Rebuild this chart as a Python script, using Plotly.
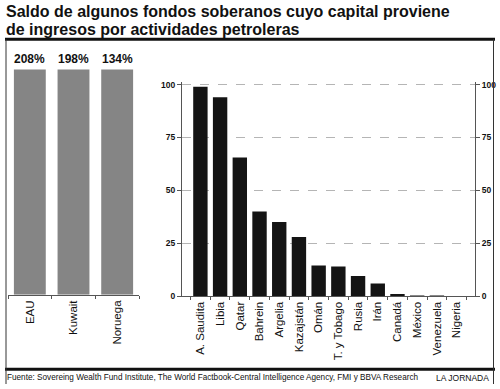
import plotly.graph_objects as go

# Data
left_cats = ["EAU", "Kuwait", "Noruega"]
left_vals = [208, 198, 134]
left_labels = ["208%", "198%", "134%"]

right_cats = ["A. Saudita", "Libia", "Qatar", "Bahrein", "Argelia", "Kazajstán", "Omán",
              "T. y Tobago", "Rusia", "Irán", "Canadá", "México", "Venezuela", "Nigeria"]
right_vals = [99, 94, 65.5, 40, 35, 28, 14.5, 14, 9.5, 6, 1, 0.3, 0.3, 0]
y_ticks = [0, 25, 50, 75, 100]

title_line1 = "Saldo de algunos fondos soberanos cuyo capital proviene"
title_line2 = "de ingresos por actividades petroleras"
source_text = "Fuente: Sovereing Wealth Fund Institute, The World Factbook-Central Intelligence Agency, FMI y BBVA Research"
credit_text = "LA JORNADA"

NARROW = "Liberation Sans Narrow, Arial Narrow, sans-serif"
SANS = "Liberation Sans, Arial, sans-serif"
H = 389.0


def py(p):
    return (H - p) / H


fig = go.Figure()

# Left panel (bars clipped at the top of the panel)
fig.add_trace(go.Bar(x=left_cats, y=left_vals, marker=dict(color="#858585", line=dict(width=0)),
                     xaxis="x", yaxis="y", hoverinfo="skip", showlegend=False))
# Right panel
fig.add_trace(go.Bar(x=right_cats, y=right_vals, marker=dict(color="#141414", line=dict(width=0)),
                     xaxis="x2", yaxis="y2", showlegend=False))
# Invisible trace to carry the right-side axis
fig.add_trace(go.Scatter(x=right_cats, y=right_vals, mode="markers", marker=dict(opacity=0),
                         xaxis="x2", yaxis="y3", hoverinfo="skip", showlegend=False))

tickfont_x = dict(family=NARROW, size=11.5, color="#111")
tickfont_y = dict(family=NARROW, size=8.5, color="#111", weight="bold")

fig.update_layout(
    width=500, height=389,
    margin=dict(l=0, r=0, t=0, b=0),
    paper_bgcolor="white", plot_bgcolor="white",
    bargap=0.27,
    xaxis=dict(domain=[8 / 500, 139 / 500], showline=True, linecolor="#555", linewidth=1,
               ticks="outside", tickson="boundaries", ticklen=3, tickcolor="#555",
               tickangle=-90, tickfont=tickfont_x, ticklabelstandoff=0,
               showgrid=False, fixedrange=True),
    yaxis=dict(domain=[py(298), py(68)], range=[0, 120], visible=False, fixedrange=True),
    xaxis2=dict(domain=[182 / 500, 475 / 500], anchor="y2", showline=True, linecolor="#555",
                linewidth=1, ticks="outside", tickson="boundaries", ticklen=3, tickcolor="#555",
                tickangle=-90, tickfont=tickfont_x, ticklabelstandoff=0,
                showgrid=False),
    yaxis2=dict(domain=[py(299.3), py(81.1)], anchor="x2", range=[0, 101], tickvals=y_ticks,
                showline=True, linecolor="#555", linewidth=1, ticks="outside", ticklen=4,
                tickcolor="#555", tickfont=tickfont_y,
                showgrid=True, gridcolor="#b5b5b5", griddash="dash", gridwidth=1,
                zeroline=False),
    yaxis3=dict(overlaying="y2", anchor="x2", side="right", range=[0, 101], tickvals=y_ticks,
                showline=True, linecolor="#555", linewidth=1, ticks="outside", ticklen=4,
                tickcolor="#555", tickfont=tickfont_y,
                showgrid=False, zeroline=False),
)

# Title (two lines, tight spacing)
fig.add_annotation(text="<b>" + title_line1 + "</b>", xref="paper", yref="paper",
                   x=4 / 500, y=py(9), xanchor="left", yanchor="middle", showarrow=False,
                   font=dict(family=SANS, size=16, color="#111"))
fig.add_annotation(text="<b>" + title_line2 + "</b>", xref="paper", yref="paper",
                   x=4 / 500, y=py(27.2), xanchor="left", yanchor="middle", showarrow=False,
                   font=dict(family=SANS, size=16, color="#111"))

# Value labels on left bars
for c, lab in zip(left_cats, left_labels):
    fig.add_annotation(text="<b>" + lab + "</b>", x=c, xref="x", yref="paper",
                       y=py(66), yanchor="bottom", showarrow=False,
                       font=dict(family=NARROW, size=12, color="#111"))

# Source and credit
fig.add_annotation(text=source_text, xref="paper", yref="paper", x=5 / 500, y=py(382.5),
                   xanchor="left", yanchor="middle", showarrow=False,
                   font=dict(family=SANS, size=8.2, color="#111"))
fig.add_annotation(text=credit_text, xref="paper", yref="paper", x=491 / 500, y=py(382.5),
                   xanchor="right", yanchor="middle", showarrow=False,
                   font=dict(family=SANS, size=8.5, color="#111"))

# Frame rules
fig.add_shape(type="line", xref="paper", yref="paper", x0=5 / 500, x1=495 / 500,
              y0=py(37), y1=py(37), line=dict(color="#111", width=3))
fig.add_shape(type="line", xref="paper", yref="paper", x0=5 / 500, x1=495 / 500,
              y0=py(374), y1=py(374), line=dict(color="#111", width=3))
fig.add_shape(type="line", xref="paper", yref="paper", x0=6 / 500, x1=6 / 500,
              y0=py(37), y1=py(389), line=dict(color="#333", width=1))
fig.add_shape(type="line", xref="paper", yref="paper", x0=493.5 / 500, x1=493.5 / 500,
              y0=py(37), y1=py(389), line=dict(color="#333", width=1))

fig.write_html("out.html", config={"displayModeBar": False},
               post_script="document.body.style.margin='0';document.body.style.overflow='hidden';")
